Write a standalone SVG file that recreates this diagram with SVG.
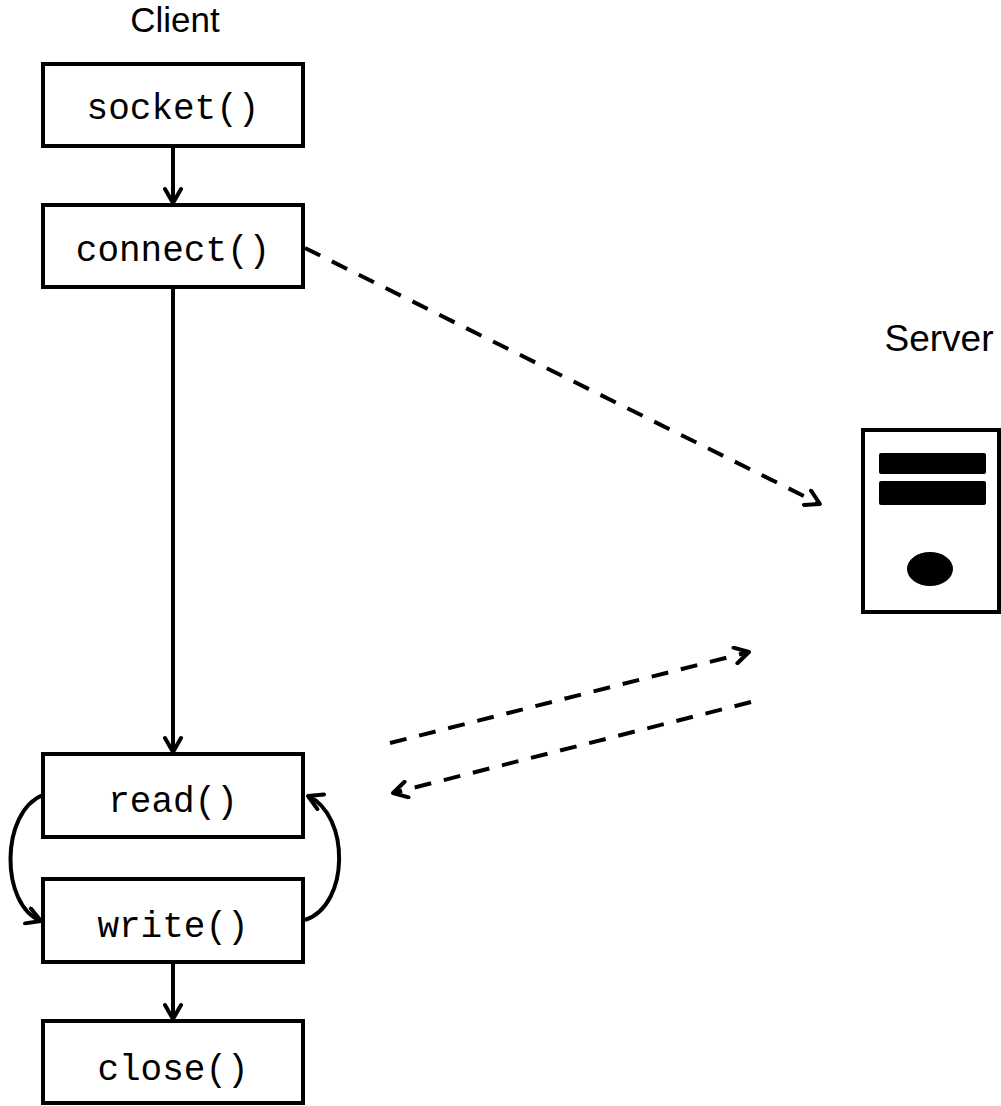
<svg xmlns="http://www.w3.org/2000/svg" width="1001" height="1106" viewBox="0 0 1001 1106">
<style>
.box{fill:#fff;stroke:#000;stroke-width:4}
.mono{font-family:"Liberation Mono","Courier New",monospace;font-size:36px;fill:#000;text-anchor:middle}
.sans{font-family:"Liberation Sans",Arial,sans-serif;font-size:37px;fill:#000;text-anchor:middle}
.conn{fill:none;stroke:#000;stroke-width:4}
.dash{fill:none;stroke:#000;stroke-width:4;stroke-dasharray:17 13}
</style>
<defs>
<marker id="ah" viewBox="0 0 20 20" refX="18" refY="10" markerWidth="20" markerHeight="20" markerUnits="userSpaceOnUse" orient="auto">
<path d="M4,2 L18,10 L4,18" fill="none" stroke="#000" stroke-width="4" stroke-linecap="round" stroke-linejoin="round"/>
</marker>
</defs>
<g id="label-client"><text class="sans" x="175" y="32" style="font-size:35px">Client</text></g>
<g id="label-server"><text class="sans" x="939" y="351">Server</text></g>
<g id="socket"><rect class="box" x="43" y="64" width="260" height="82"/><text class="mono" x="173" y="119">socket()</text></g>
<g id="connect"><rect class="box" x="43" y="205" width="260" height="82"/><text class="mono" x="173" y="261">connect()</text></g>
<g id="read"><rect class="box" x="43" y="754" width="260" height="83"/><text class="mono" x="173" y="812">read()</text></g>
<g id="write"><rect class="box" x="43" y="879" width="260" height="83"/><text class="mono" x="173" y="937">write()</text></g>
<g id="close"><rect class="box" x="43" y="1021" width="260" height="82"/><text class="mono" x="173" y="1080">close()</text></g>
<g id="server">
<rect x="863" y="430" width="136" height="182" fill="#fff" stroke="#000" stroke-width="4"/>
<rect x="879" y="453" width="107" height="21" rx="2" fill="#000"/>
<rect x="879" y="481" width="107" height="24" rx="2" fill="#000"/>
<ellipse cx="930" cy="569" rx="23" ry="17" fill="#000"/>
</g>
<g id="connectors">
<line class="conn" x1="173" y1="147" x2="173" y2="203" marker-end="url(#ah)"/>
<line class="conn" x1="173" y1="288" x2="173" y2="752" marker-end="url(#ah)"/>
<line class="conn" x1="173" y1="963" x2="173" y2="1019" marker-end="url(#ah)"/>
<path class="conn" d="M43,795 C0,812 0,905 41,921" marker-end="url(#ah)"/>
<path class="conn" d="M305,920 C350,905 350,815 308,796" marker-end="url(#ah)"/>
<path class="dash" d="M305,248 L820,504" marker-end="url(#ah)"/>
<path class="dash" d="M390,743 L749,652" marker-end="url(#ah)"/>
<path class="dash" d="M751,702 L393,793" marker-end="url(#ah)"/>
</g>
</svg>
